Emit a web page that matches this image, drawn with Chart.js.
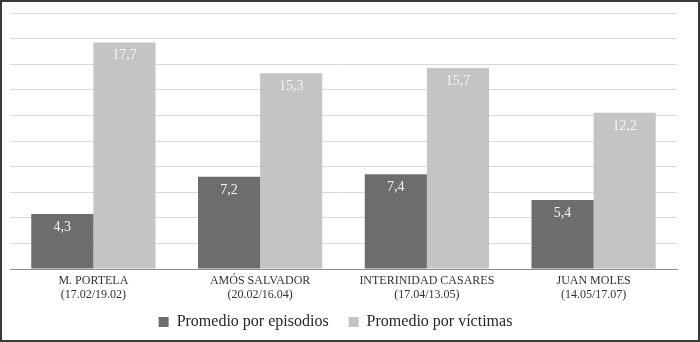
<!DOCTYPE html>
<html>
<head>
<meta charset="utf-8">
<script src="https://cdn.jsdelivr.net/npm/chart.js@4.4.0/dist/chart.umd.min.js"></script>
<style>
  body { margin: 0; background: #fff; }
  .frame {
    width: 700px; height: 342px; box-sizing: border-box;
    border: 2px solid #3a3a3a; position: relative; background: #fff;
  }
  .frame canvas { position: absolute; left: 0; top: 0; }
</style>
</head>
<body>
<div class="frame">
  <canvas id="myChart" width="696" height="338"></canvas>
</div>
<script>
const categories = [
  ["M. PORTELA", "(17.02/19.02)"],
  ["AMÓS SALVADOR", "(20.02/16.04)"],
  ["INTERINIDAD CASARES", "(17.04/13.05)"],
  ["JUAN MOLES", "(14.05/17.07)"],
];
const porEpisodios = [4.3, 7.2, 7.4, 5.4];
const porVictimas = [17.7, 15.3, 15.7, 12.2];

const serif = "'Liberation Serif', serif";

// value labels inside the top of each bar + two-line category labels
const textLayer = {
  id: "textLayer",
  afterLayout(chart) {
    // legend sits a bit left of centre in the original
    chart.legend.left -= 8;
    chart.legend.right -= 8;
  },
  afterDatasetsDraw(chart) {
    const ctx = chart.ctx;
    ctx.save();
    ctx.font = "14px " + serif;
    ctx.fillStyle = "#f4f4f4";
    ctx.textAlign = "center";
    ctx.textBaseline = "middle";
    chart.data.datasets.forEach((ds, i) => {
      chart.getDatasetMeta(i).data.forEach((bar, j) => {
        const txt = ds.data[j].toFixed(1).replace(".", ",");
        ctx.fillText(txt, bar.x, bar.y + 13);
      });
    });
    const xs = chart.scales.x;
    ctx.font = "12px " + serif;
    ctx.fillStyle = "#333";
    categories.forEach((lines, i) => {
      const x = xs.getPixelForTick(i);
      lines.forEach((line, k) => {
        ctx.fillText(line, x, xs.top + 12 + k * 14);
      });
    });
    ctx.restore();
  },
};

var ctx = document.getElementById("myChart").getContext("2d");
var myChart = new Chart(ctx, {
  type: "bar",
  data: {
    labels: categories.map((c) => c.join(" ")),
    datasets: [
      {
        label: "Promedio por episodios",
        data: porEpisodios,
        backgroundColor: "#6d6d6d",
        borderWidth: 0,
      },
      {
        label: "Promedio por víctimas",
        data: porVictimas,
        backgroundColor: "#c4c4c4",
        borderWidth: 0,
      },
    ],
  },
  options: {
    responsive: false,
    animation: false,
    layout: { padding: { left: 8, right: 21, top: 11, bottom: 0 } },
    datasets: { bar: { categoryPercentage: 0.745, barPercentage: 1.0 } },
    scales: {
      x: {
        grid: { display: false, drawTicks: false },
        border: { color: "#8c8c8c", width: 1 },
        ticks: { display: false },
        afterFit(scale) {
          scale.height = 25;
        },
      },
      y: {
        min: 0,
        max: 20,
        ticks: { display: false, stepSize: 2 },
        border: { display: false },
        grid: { color: "#d9d9d9", lineWidth: 1, drawTicks: false },
      },
    },
    plugins: {
      tooltip: { enabled: false },
      legend: {
        position: "bottom",
        labels: {
          font: { family: serif, size: 16 },
          color: "#262626",
          boxWidth: 10,
          boxHeight: 10,
          padding: 20,
        },
      },
    },
  },
  plugins: [textLayer],
});
</script>
</body>
</html>
